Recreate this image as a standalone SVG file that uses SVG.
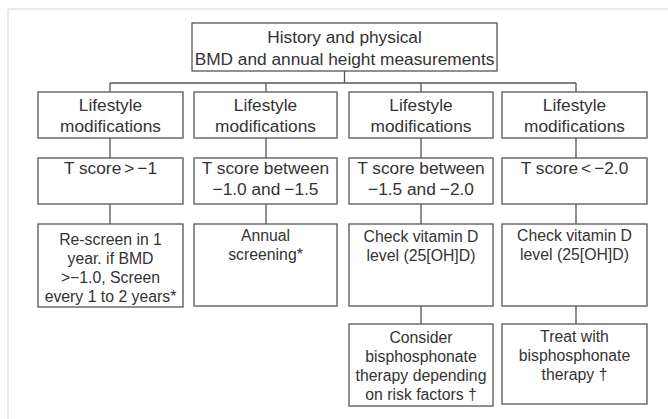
<svg xmlns="http://www.w3.org/2000/svg" width="668" height="419" viewBox="0 0 668 419">
<style>
.b{fill:#fff;stroke:#555;stroke-width:1.3}
.t{font-family:"Liberation Sans",Arial,sans-serif;font-size:17.3px;fill:#333;text-anchor:middle}
.s{font-family:"Liberation Sans",Arial,sans-serif;font-size:15.8px;fill:#333;text-anchor:middle}
.c{stroke:#555;stroke-width:1.3;fill:none}
.f{stroke:#e2e2e2;stroke-width:1.5;fill:none}
</style>
<rect width="668" height="419" fill="#fff"/>
<path class="f" d="M8 9H668M8 9V419"/>
<g id="connectors">
<path class="c" d="M344.5 71V83M110 83H576M110 83V92M266 83V92M421 83V92M576 83V92"/>
<path class="c" d="M110 138V158M266 138V158M421 138V158M576 138V158"/>
<path class="c" d="M110 204V224M266 204V224M421 204V224M576 204V224"/>
<path class="c" d="M421 306V324M576 306V324"/>
</g>
<g id="top">
<rect class="b" x="192" y="23" width="305" height="48"/>
<text class="t" x="344.5" y="43">History and physical</text>
<text class="t" x="344.5" y="65">BMD and annual height measurements</text>
</g>
<g id="life1"><rect class="b" x="38" y="92" width="145" height="46"/><text class="t" x="110.5" y="111">Lifestyle</text><text class="t" x="110.5" y="132">modifications</text></g>
<g id="life2"><rect class="b" x="194" y="92" width="143" height="46"/><text class="t" x="265.5" y="111">Lifestyle</text><text class="t" x="265.5" y="132">modifications</text></g>
<g id="life3"><rect class="b" x="349" y="92" width="144" height="46"/><text class="t" x="421" y="111">Lifestyle</text><text class="t" x="421" y="132">modifications</text></g>
<g id="life4"><rect class="b" x="502" y="92" width="145" height="46"/><text class="t" x="574.5" y="111">Lifestyle</text><text class="t" x="574.5" y="132">modifications</text></g>
<g id="t1"><rect class="b" x="38" y="158" width="145" height="46"/><text class="t" x="110.5" y="174">T score<tspan dx="3">&gt;</tspan><tspan dx="3">−1</tspan></text></g>
<g id="t2"><rect class="b" x="194" y="158" width="143" height="46"/><text class="t" x="265.5" y="174">T score between</text><text class="t" x="265.5" y="195"><tspan>−1.0 and</tspan><tspan dx="4">−1.5</tspan></text></g>
<g id="t3"><rect class="b" x="349" y="158" width="144" height="46"/><text class="t" x="421" y="174">T score between</text><text class="t" x="421" y="195"><tspan>−1.5 and</tspan><tspan dx="4">−2.0</tspan></text></g>
<g id="t4"><rect class="b" x="502" y="158" width="145" height="46"/><text class="t" x="574.5" y="174">T score<tspan dx="3">&lt;</tspan><tspan dx="3">−2.0</tspan></text></g>
<g id="r1"><rect class="b" x="38" y="224" width="145" height="83"/>
<text class="s" x="110.5" y="245">Re-screen in 1</text><text class="s" x="110.5" y="264">year. if BMD</text><text class="s" x="110.5" y="283">&gt;−1.0, Screen</text><text class="s" x="110.5" y="302">every 1 to 2 years*</text></g>
<g id="r2"><rect class="b" x="194" y="224" width="143" height="82"/>
<text class="s" x="265.5" y="241">Annual</text><text class="s" x="265.5" y="260">screening*</text></g>
<g id="r3"><rect class="b" x="349" y="224" width="144" height="82"/>
<text class="s" x="421" y="242">Check vitamin D</text><text class="s" x="421" y="261">level (25[OH]D)</text></g>
<g id="r4"><rect class="b" x="502" y="224" width="145" height="82"/>
<text class="s" x="574.5" y="241">Check vitamin D</text><text class="s" x="574.5" y="260">level (25[OH]D)</text></g>
<g id="d3"><rect class="b" x="349" y="324" width="144" height="82"/>
<text class="s" x="421" y="343">Consider</text><text class="s" x="421" y="362">bisphosphonate</text><text class="s" x="421" y="381">therapy depending</text><text class="s" x="421" y="400">on risk factors †</text></g>
<g id="d4"><rect class="b" x="502" y="324" width="145" height="80"/>
<text class="s" x="574.5" y="342">Treat with</text><text class="s" x="574.5" y="361">bisphosphonate</text><text class="s" x="574.5" y="380">therapy †</text></g>
</svg>
